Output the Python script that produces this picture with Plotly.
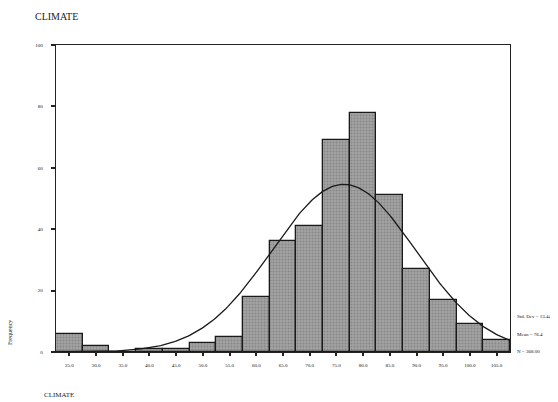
import numpy as np
import plotly.graph_objects as go

# Data
bin_centers = [25, 30, 35, 40, 45, 50, 55, 60, 65, 70, 75, 80, 85, 90, 95, 100, 105]
frequencies = [6, 2, 0, 1, 1, 3, 5, 18, 36, 41, 69, 78, 51, 27, 17, 9, 4]
tick_labels = ["25.0", "30.0", "35.0", "40.0", "45.0", "50.0", "55.0", "60.0", "65.0",
               "70.0", "75.0", "80.0", "85.0", "90.0", "95.0", "100.0", "105.0"]
y_ticks = [0, 20, 40, 60, 80, 100]
std_dev = 13.44
mean = 76.4
n_total = 368.00
bin_width = 5

# Normal curve fitted to the histogram
xs = np.linspace(22.5, 107.5, 300)
curve = n_total * bin_width / (std_dev * np.sqrt(2 * np.pi)) * np.exp(-0.5 * ((xs - mean) / std_dev) ** 2)

OFF = 8  # page body margin
W, H = 558 - OFF, 402 - OFF
L, T = 56 - OFF, 45 - OFF
PW, PH = 454, 307

fig = go.Figure()
fig.add_trace(go.Bar(
    x=bin_centers, y=frequencies, width=bin_width,
    marker=dict(color="#989898", line=dict(color="#1a1a1a", width=1.3),
                pattern=dict(shape=".", fgcolor="#6c6c6c", bgcolor="#a2a2a2", size=3, solidity=0.35)),
    showlegend=False,
))
fig.add_trace(go.Scatter(x=xs, y=curve, mode="lines",
                         line=dict(color="#1a1a1a", width=1.3), showlegend=False))

tick_font = dict(family="Liberation Serif", size=5, color="#111")
fig.update_layout(
    width=W, height=H,
    margin=dict(l=L, r=W - L - PW, t=T, b=H - T - PH),
    paper_bgcolor="white", plot_bgcolor="white",
    bargap=0,
    xaxis=dict(range=[22.5, 107.5], tickvals=bin_centers, ticktext=tick_labels,
               ticks="outside", ticklen=3, tickwidth=2, tickcolor="#222",
               showline=True, linecolor="#222", linewidth=1.3, mirror=True,
               showgrid=False, zeroline=False, tickfont=tick_font, ticklabelstandoff=5),
    yaxis=dict(range=[0, 100], tickvals=y_ticks, ticks="outside", ticklen=4, tickwidth=1.5,
               tickcolor="#222", showline=True, linecolor="#222", linewidth=1.3, mirror=True,
               showgrid=False, zeroline=False, tickfont=tick_font, ticklabelstandoff=7),
    font=dict(family="Liberation Serif"),
)


def px_to_paper(xp, yp):
    return (xp - 56) / PW, (352 - yp) / PH


stats = [f"Std. Dev = {std_dev:.2f}", f"Mean = {mean:.1f}", f"N = {n_total:.2f}"]
for txt, ypx in zip(stats, [316, 334, 351]):
    px, py = px_to_paper(515, ypx)
    fig.add_annotation(text=txt, xref="paper", yref="paper", x=px, y=py,
                       xanchor="left", yanchor="middle", showarrow=False,
                       font=dict(family="Liberation Serif", size=5, color="#111"))

px, py = px_to_paper(33, 17)
fig.add_annotation(text="CLIMATE", xref="paper", yref="paper", x=px, y=py,
                   xanchor="left", yanchor="middle", showarrow=False,
                   font=dict(family="Liberation Serif", size=10, color="#222"))
px, py = px_to_paper(42, 395)
fig.add_annotation(text="CLIMATE", xref="paper", yref="paper", x=px, y=py,
                   xanchor="left", yanchor="middle", showarrow=False,
                   font=dict(family="Liberation Serif", size=7, color="#222"))
px, py = px_to_paper(10, 333)
fig.add_annotation(text="Frequency", xref="paper", yref="paper", x=px, y=py,
                   xanchor="center", yanchor="middle", textangle=-90, showarrow=False,
                   font=dict(family="Liberation Serif", size=6, color="#222"))

fig.write_html("out.html")
